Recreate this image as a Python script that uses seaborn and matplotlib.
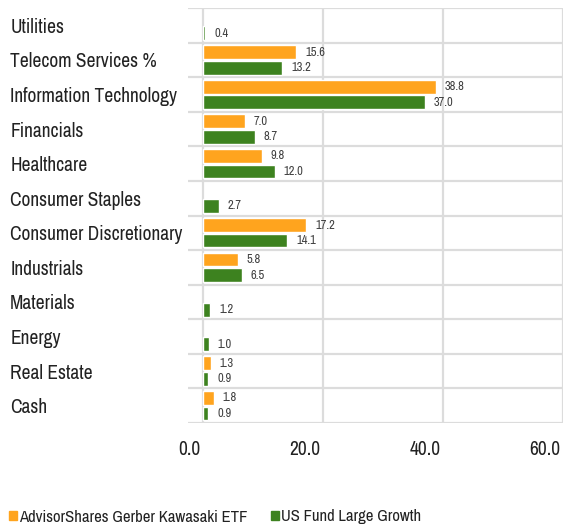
# Sector breakdown: fund vs category, horizontal grouped bars

import seaborn as sns
import matplotlib.pyplot as plt
import matplotlib.transforms as mtrans
import pandas as pd
from matplotlib import font_manager as fm
from matplotlib.patches import Patch

sectors = ['Utilities', 'Telecom Services %', 'Information Technology', 'Financials',
           'Healthcare', 'Consumer Staples', 'Consumer Discretionary', 'Industrials',
           'Materials', 'Energy', 'Real Estate', 'Cash']
series = ['AdvisorShares Gerber Kawasaki ETF', 'US Fund Large Growth']
etf = [None, 15.6, 38.8, 7.0, 9.8, None, 17.2, 5.8, None, None, 1.3, 1.8]
category = [0.4, 13.2, 37.0, 8.7, 12.0, 2.7, 14.1, 6.5, 1.2, 1.0, 0.9, 0.9]
colors = ['#FFA41E', '#3D821F']

rows = []
for s, a, b in zip(sectors, etf, category):
    if a is not None:
        rows.append({'sector': s, 'series': series[0], 'value': a})
    rows.append({'sector': s, 'series': series[1], 'value': b})
df = pd.DataFrame(rows)

sns.set_style('white')

# look for a condensed face; otherwise shrink Roboto to keep the widths
fonts = fm.fontManager.ttflist
narrow = [f for f in fonts if 'Narrow' in f.name or 'Condensed' in f.name]
if narrow:
    family, size = narrow[0].name, 14
else:
    family, size = 'Roboto', 12
plt.rcParams['font.family'] = [family, 'DejaVu Sans']

fig = plt.figure(figsize=(5.64, 5.27), dpi=100)
ax = fig.add_axes([188 / 564, 104 / 527, 375 / 564, 415 / 527])

sns.barplot(data=df, y='sector', x='value', hue='series', order=sectors,
            hue_order=series, palette=colors, width=0.9, gap=0.12,
            orient='h', ax=ax, legend=False, saturation=1)

for c in ax.containers:
    ax.bar_label(c, fmt='%.1f', padding=6.5, fontsize=size - 5, color='#404040')

ax.set_xlim(-2.45, 60.05)
ax.set_ylim(len(sectors) - 0.5, -0.5)
ax.set_xticks([0, 20, 40, 60])
ax.set_xticklabels(['0.0', '20.0', '40.0', '60.0'], fontsize=size, color='#222222',
                   ha='right')
ax.set_yticks(range(len(sectors)))
ax.set_yticklabels(sectors, fontsize=size, color='#222222')
ax.set_yticks([i - 0.5 for i in range(len(sectors) + 1)], minor=True)
ax.set_xlabel('')
ax.set_ylabel('')

ax.grid(True, axis='x', which='major', color='#dcdcdc', linewidth=1.6)
ax.grid(True, axis='y', which='minor', color='#dcdcdc', linewidth=1.6)
ax.set_axisbelow(True)
ax.tick_params(axis='x', which='major', length=9, width=1.6, color='#dcdcdc', pad=3)
ax.tick_params(axis='y', which='both', length=0, pad=128)
for lbl in ax.get_yticklabels():
    lbl.set_horizontalalignment('left')
shift = mtrans.ScaledTranslation(-2 / 100, 0, fig.dpi_scale_trans)
for lbl in ax.get_xticklabels():
    lbl.set_transform(lbl.get_transform() + shift)
for sp in ax.spines.values():
    sp.set_visible(False)

handles = [Patch(color=c, label=s) for c, s in zip(colors, series)]
fig.legend(handles=handles, loc='center left', bbox_to_anchor=(9 / 564, 10 / 527),
           ncol=2, frameon=False, fontsize=size - 2, handlelength=0.5, handleheight=0.5,
           handletextpad=0.12, columnspacing=1.4, borderaxespad=0, borderpad=0,
           labelcolor='#222222')

fig.savefig('out.png', dpi=100)
